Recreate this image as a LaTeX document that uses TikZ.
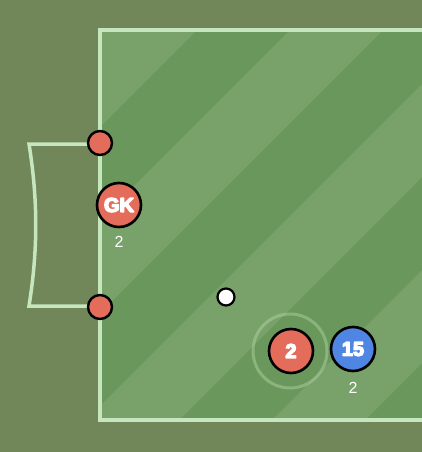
\documentclass[tikz,border=0pt]{standalone}
\usepackage{fontspec}
\setmainfont{Liberation Sans}
\newcommand{\hv}[1]{\special{pdf:literal direct 2 Tr 1.4 w 1 1 1 RG 1 j}#1\special{pdf:literal direct 0 Tr}}
\begin{document}
\begin{tikzpicture}[x=1pt,y=-1pt,
  player/.style={circle,draw=black,line width=2.6pt,inner sep=0pt,minimum size=44pt,text=white,font=\bfseries\fontsize{20}{20}\selectfont},
  post/.style={circle,draw=black,line width=2.4pt,fill=redp,inner sep=0pt,minimum size=24pt},
  ball/.style={circle,draw=black,line width=2.2pt,fill=white,inner sep=0pt,minimum size=17pt},
  lbl/.style={text=white,font=\fontsize{16}{16}\selectfont,inner sep=0pt},
  pline/.style={draw=linec,line width=3.5pt}]
\definecolor{bgc}{HTML}{71875A}
\definecolor{darks}{HTML}{6A985C}
\definecolor{lights}{HTML}{78A269}
\definecolor{linec}{HTML}{C6E6BE}
\definecolor{redp}{HTML}{E36D5A}
\definecolor{bluep}{HTML}{4F86E3}
\fill[bgc] (0,0) rectangle (422,452);
\useasboundingbox (0,0) rectangle (422,452);
\begin{scope}
\clip (100,30) rectangle (422,420);
\fill[darks] (100,30) rectangle (422,420);
\foreach \a/\b in {100/227,320/413,506/599,692/785,878/971}
  \fill[lights] (\a,0) -- (\b,0) -- (\b-600,600) -- (\a-600,600) -- cycle;
\end{scope}
\draw[pline] (424,30) -- (100,30) -- (100,420) -- (424,420);
% goal
\coordinate (gt) at (100,144);
\coordinate (gb) at (100,306);
\draw[pline] (gt) -- (29,144) .. controls (38,200) and (38,250) .. (29,306) -- (gb);
\node[post] (p1) at (100,143) {};
\node[post] (p2) at (100,307) {};
\node[player,fill=redp] (gk) at (119,205) {\hv{GK}};
\node[lbl] (gkl) at (119,242) {2};
\node[ball] (b) at (226,297) {};
\draw[linec,opacity=0.35,line width=3pt] (290,351) circle (37);
\node[player,fill=redp] (r2) at (291,351) {\hv{2}};
\node[player,fill=bluep] (b15) at (353,349) {\hv{15}};
\node[lbl] (b15l) at (353,388) {2};
\end{tikzpicture}
\end{document}
